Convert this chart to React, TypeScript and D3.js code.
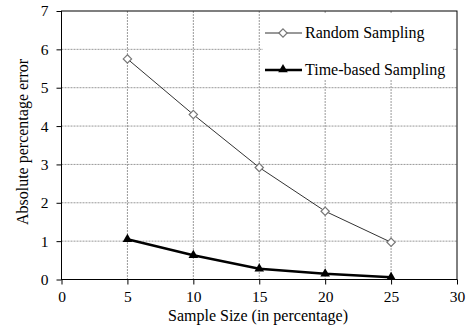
import React, { useEffect, useRef } from 'react';
import * as d3 from 'd3';

const sampleSizes = [5, 10, 15, 20, 25];
const randomSampling = [5.75, 4.3, 2.92, 1.78, 0.97];
const timeBasedSampling = [1.05, 0.63, 0.28, 0.15, 0.06];
const xTicks = [0, 5, 10, 15, 20, 25, 30];
const yTicks = [0, 1, 2, 3, 4, 5, 6, 7];

const App = () => {
  const ref = useRef<SVGSVGElement | null>(null);

  useEffect(() => {
    const svg = d3.select(ref.current);
    svg.selectAll('*').remove();

    const font = "Liberation Serif, Tinos, DejaVu Serif, serif";
    const m = { left: 61.5, right: 457, top: 11, bottom: 279.5 };
    const x = d3.scaleLinear().domain([0, 30]).range([m.left, m.right]);
    const y = d3.scaleLinear().domain([0, 7]).range([m.bottom, m.top]);

    svg.append('rect').attr('width', 468).attr('height', 331).attr('fill', '#fff');

    // grid
    const grid = svg.append('g').attr('stroke', '#999').attr('stroke-dasharray', '2,1').attr('stroke-width', 1);
    xTicks.slice(1, -1).forEach((t) => {
      grid.append('line').attr('x1', x(t)).attr('x2', x(t)).attr('y1', m.top).attr('y2', m.bottom);
    });
    yTicks.slice(1, -1).forEach((t) => {
      grid.append('line').attr('x1', m.left).attr('x2', m.right).attr('y1', y(t)).attr('y2', y(t));
    });

    // legend background
    svg.append('rect').attr('x', 263).attr('y', 14).attr('width', 190).attr('height', 66).attr('fill', '#fff');

    // frame
    svg.append('rect')
      .attr('x', m.left).attr('y', m.top)
      .attr('width', m.right - m.left).attr('height', m.bottom - m.top)
      .attr('fill', 'none').attr('stroke', '#000').attr('stroke-width', 1);

    // axes
    const xAxis = svg.append('g').attr('transform', `translate(0,${m.bottom})`)
      .call(d3.axisBottom(x).tickValues(xTicks).tickSize(5).tickPadding(6).tickFormat(d3.format('d')));
    const yAxis = svg.append('g').attr('transform', `translate(${m.left},0)`)
      .call(d3.axisLeft(y).tickValues(yTicks).tickSize(5).tickPadding(8).tickFormat(d3.format('d')));
    [xAxis, yAxis].forEach((a) => {
      a.attr('font-family', font).attr('font-size', 15.5);
      a.select('.domain').remove();
      a.selectAll('text').attr('fill', '#000');
      a.selectAll('line').attr('stroke', '#000');
    });

    // random sampling
    const pts1 = sampleSizes.map((s, i) => [x(s), y(randomSampling[i])] as [number, number]);
    svg.append('path').attr('d', d3.line()(pts1)).attr('fill', 'none').attr('stroke', '#333').attr('stroke-width', 1);
    const diamond = d3.symbol().type(d3.symbolDiamond2).size(44);
    svg.selectAll('.d1').data(pts1).enter().append('path')
      .attr('d', diamond()).attr('transform', (d) => `translate(${d[0]},${d[1]})`)
      .attr('fill', '#fff').attr('stroke', '#777').attr('stroke-width', 1.2);

    // time based sampling
    const pts2 = sampleSizes.map((s, i) => [x(s), y(timeBasedSampling[i])] as [number, number]);
    svg.append('path').attr('d', d3.line()(pts2)).attr('fill', 'none').attr('stroke', '#000').attr('stroke-width', 2.5);
    const tri = d3.symbol().type(d3.symbolTriangle).size(40);
    svg.selectAll('.d2').data(pts2).enter().append('path')
      .attr('d', tri()).attr('transform', (d) => `translate(${d[0]},${d[1]})`)
      .attr('fill', '#000');

    // legend
    const lg = svg.append('g').attr('font-family', font).attr('font-size', 16);
    lg.append('line').attr('x1', 265).attr('x2', 302).attr('y1', 33).attr('y2', 33).attr('stroke', '#333').attr('stroke-width', 1);
    lg.append('path').attr('d', diamond()).attr('transform', 'translate(283,33)').attr('fill', '#fff').attr('stroke', '#777').attr('stroke-width', 1.2);
    lg.append('text').attr('x', 305).attr('y', 38).text('Random Sampling');
    lg.append('line').attr('x1', 265).attr('x2', 302).attr('y1', 70).attr('y2', 70).attr('stroke', '#000').attr('stroke-width', 2.5);
    lg.append('path').attr('d', tri()).attr('transform', 'translate(283,69.5)').attr('fill', '#000');
    lg.append('text').attr('x', 305).attr('y', 75).text('Time-based Sampling');

    // axis titles
    const titles = svg.append('g').attr('font-family', font).attr('font-size', 16).attr('text-anchor', 'middle');
    titles.append('text').attr('x', 258).attr('y', 321).text('Sample Size (in percentage)');
    titles.append('text').attr('transform', 'translate(28,142) rotate(-90)')
      .text('Absolute percentage error');
  }, []);

  return <svg ref={ref} width={468} height={331} style={{ position: 'absolute', left: 0, top: 0 }} />;
};

export default App;
